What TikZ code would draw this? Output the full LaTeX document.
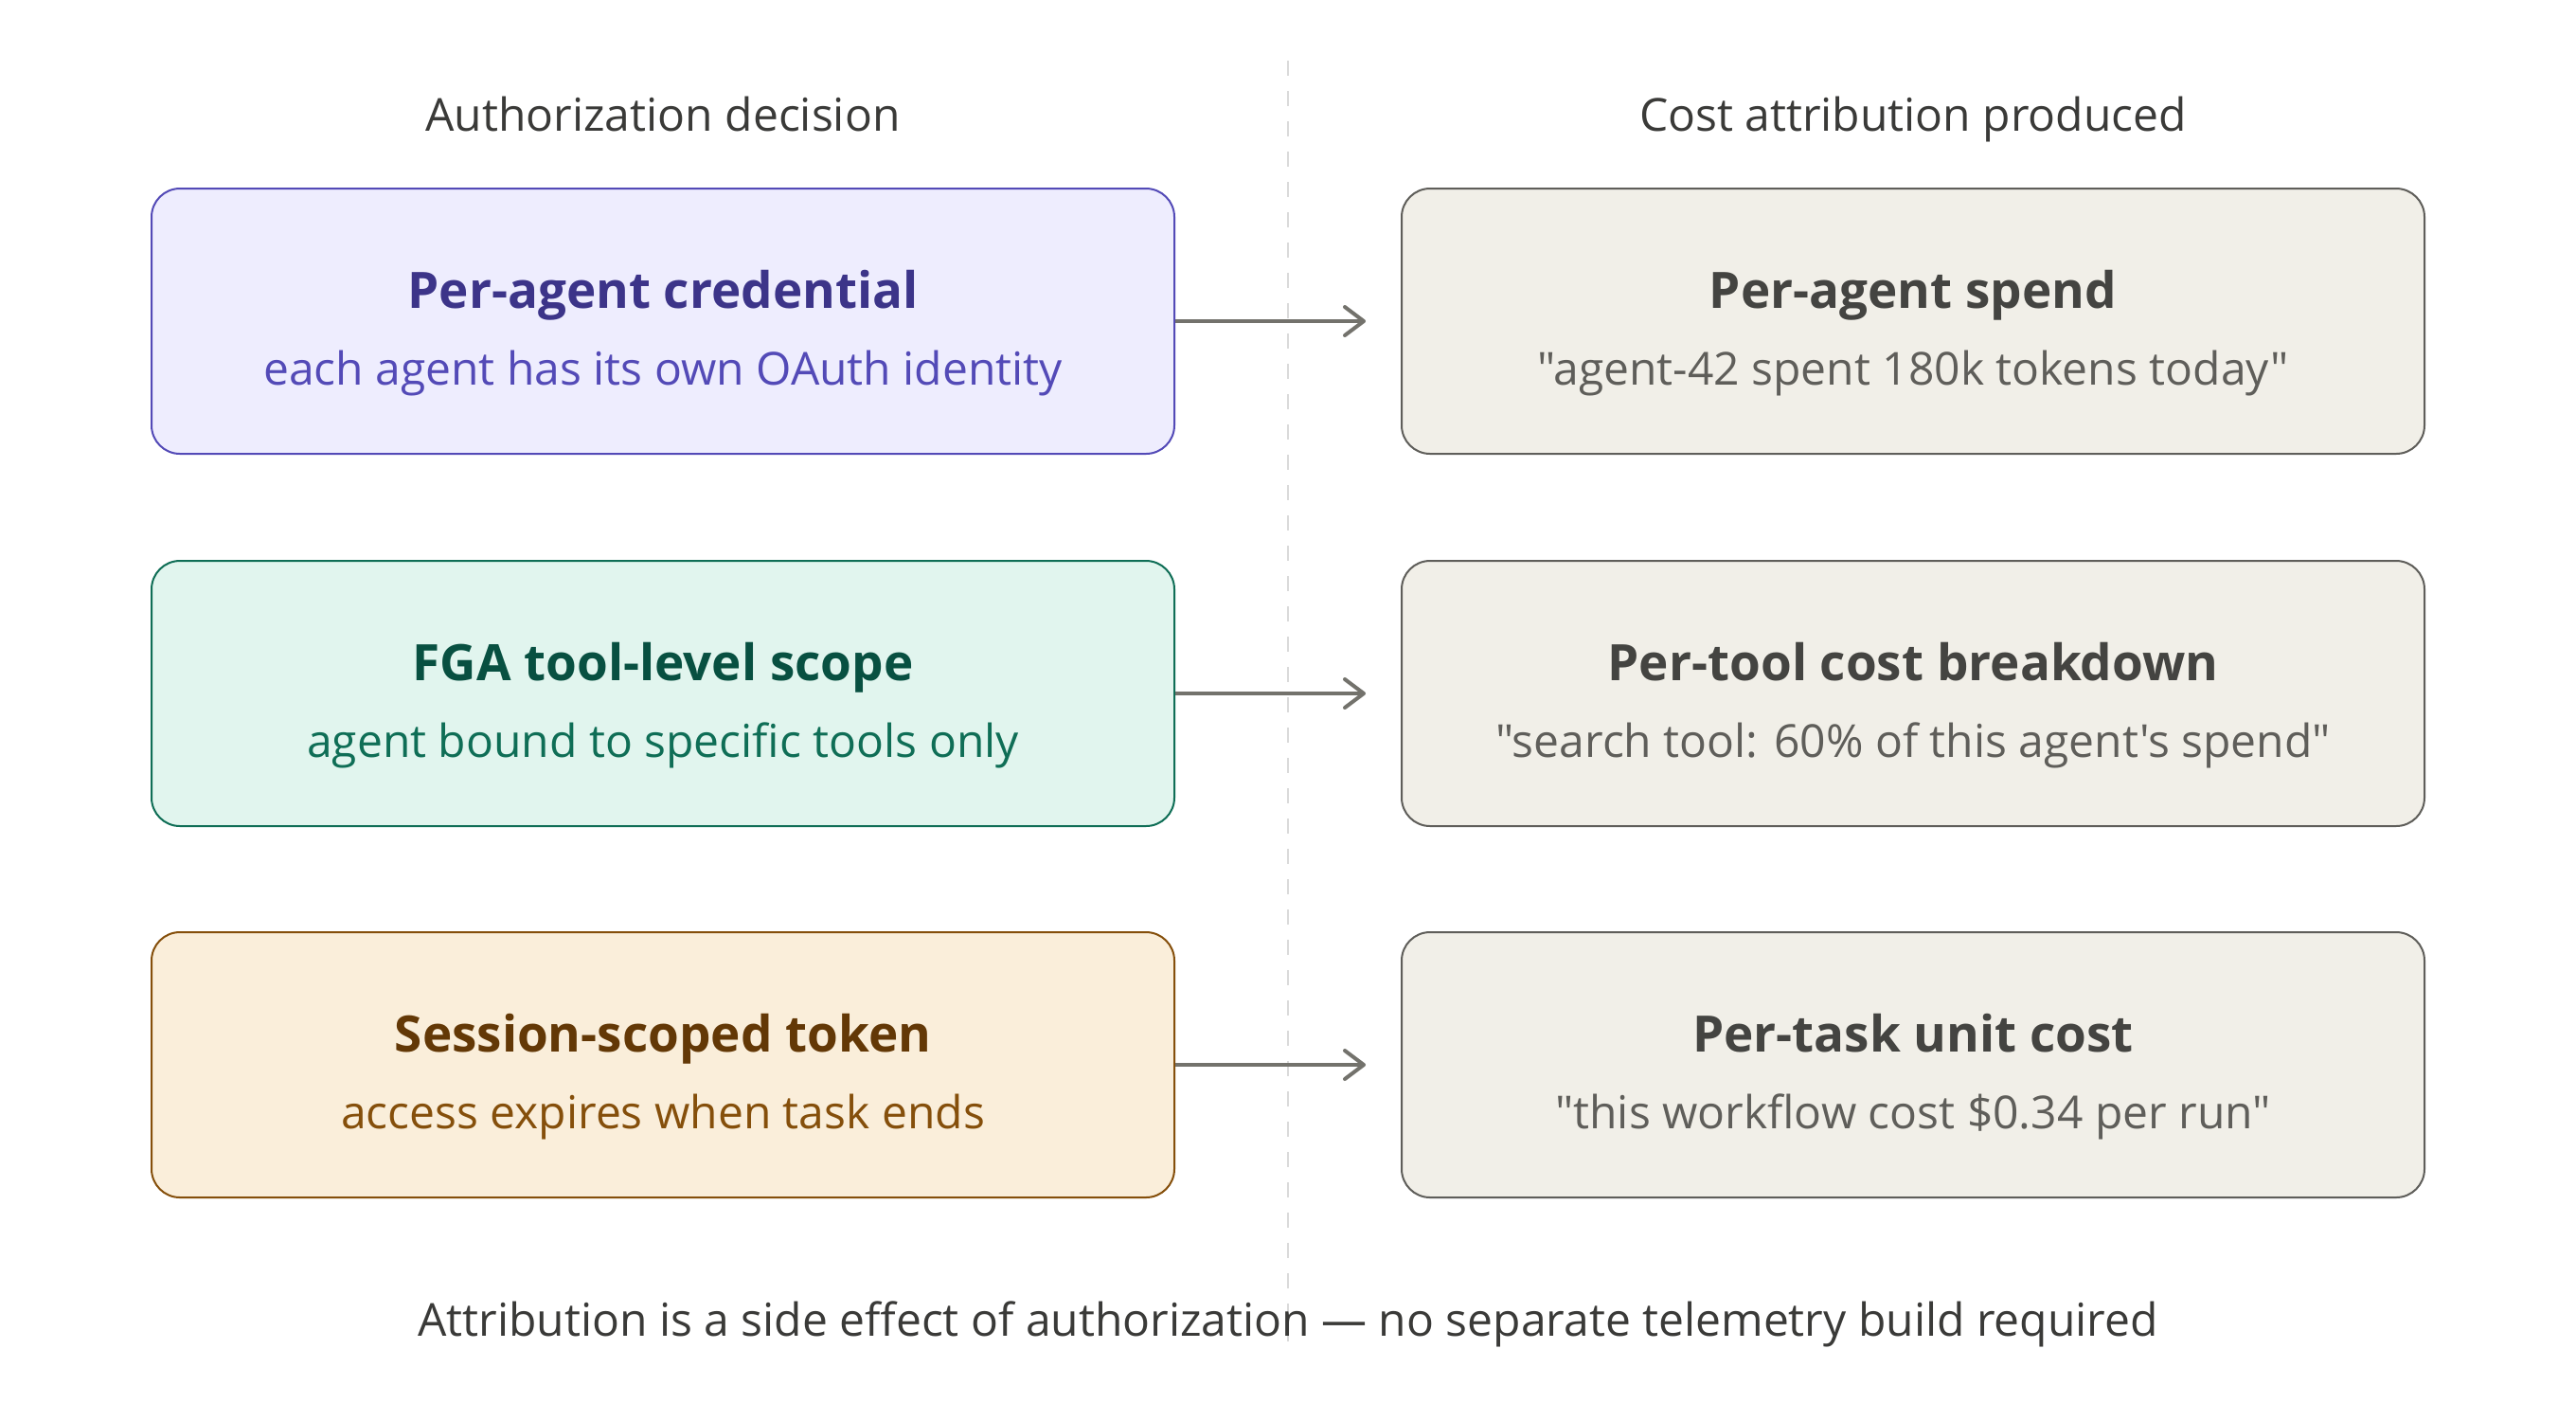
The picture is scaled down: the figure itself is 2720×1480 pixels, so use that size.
\documentclass[tikz,border=0pt]{standalone}
\usepackage{fontspec}
\setmainfont{Open Sans}
\newfontfamily\osans{Open Sans}
\usetikzlibrary{arrows.meta,calc}
\definecolor{pfill}{HTML}{EEEDFE}\definecolor{pdraw}{HTML}{534AB7}\definecolor{ptitle}{HTML}{3C3489}\definecolor{psub}{HTML}{534AB7}
\definecolor{tfill}{HTML}{E1F5EE}\definecolor{tdraw}{HTML}{0F6E56}\definecolor{ttitle}{HTML}{085041}\definecolor{tsub}{HTML}{0F6E56}
\definecolor{afill}{HTML}{FAEEDA}\definecolor{adraw}{HTML}{854F0B}\definecolor{atitle}{HTML}{633806}\definecolor{asub}{HTML}{854F0B}
\definecolor{gfill}{HTML}{F1EFE8}\definecolor{gdraw}{HTML}{5F5E5A}\definecolor{gtitle}{HTML}{444441}\definecolor{gsub}{HTML}{5F5E5A}
\definecolor{arrowc}{HTML}{73726C}\definecolor{dashc}{HTML}{DADADA}\definecolor{headc}{HTML}{3A3A38}
\tikzset{
  card/.style={draw, line width=1pt, rounded corners=15pt, minimum width=540pt, minimum height=140pt, inner sep=0pt},
  ttl/.style={font=\osans\fontsize{26.5}{30}\selectfont\bfseries, inner sep=0pt, anchor=base},
  sub/.style={font=\osans\fontsize{24}{28}\selectfont, inner sep=0pt, anchor=base},
  head/.style={font=\osans\fontsize{24}{28}\selectfont, text=headc, inner sep=0pt, anchor=base},
  conn/.style={draw=arrowc, line width=2pt, -{Straight Barb[length=10pt,width=15pt,round]}, shorten >=18.5pt},
  divider/.style={draw=dashc, line width=1pt, dash pattern=on 8pt off 8pt}
}
\begin{document}
\begin{tikzpicture}[x=0.5pt,y=-0.5pt]
\useasboundingbox[fill=white] (0,0) rectangle (2720,1480);
\coordinate (dtop) at (1360,64);
\coordinate (dbot) at (1360,1416);
\draw[divider] (dtop) -- (dbot);
\node[head] (h1) at (700,138) {Authorization decision};
\node[head] (h2) at (2020,138) {Cost attribution produced};
% left column
\node[card, fill=pfill, draw=pdraw] (l1) at (700,339) {};
\node[card, fill=tfill, draw=tdraw] (l2) at (700,732) {};
\node[card, fill=afill, draw=adraw] (l3) at (700,1124) {};
% right column
\node[card, fill=gfill, draw=gdraw] (r1) at (2020,339) {};
\node[card, fill=gfill, draw=gdraw] (r2) at (2020,732) {};
\node[card, fill=gfill, draw=gdraw] (r3) at (2020,1124) {};
% texts
\node[ttl, text=ptitle] (l1t) at ($(l1.center)+(0,-14)$) {Per-agent credential};
\node[sub, text=psub] (l1s) at ($(l1.center)+(0,67)$) {each agent has its own OAuth identity};
\node[ttl, text=ttitle] (l2t) at ($(l2.center)+(0,-14)$) {FGA tool-level scope};
\node[sub, text=tsub] (l2s) at ($(l2.center)+(0,67)$) {agent bound to specific tools only};
\node[ttl, text=atitle] (l3t) at ($(l3.center)+(0,-14)$) {Session-scoped token};
\node[sub, text=asub] (l3s) at ($(l3.center)+(0,67)$) {access expires when task ends};
\node[ttl, text=gtitle] (r1t) at ($(r1.center)+(0,-14)$) {Per-agent spend};
\node[sub, text=gsub] (r1s) at ($(r1.center)+(0,67)$) {"agent-42 spent 180k tokens today"};
\node[ttl, text=gtitle] (r2t) at ($(r2.center)+(0,-14)$) {Per-tool cost breakdown};
\node[sub, text=gsub] (r2s) at ($(r2.center)+(0,67)$) {"search tool: 60\% of this agent's spend"};
\node[ttl, text=gtitle] (r3t) at ($(r3.center)+(0,-14)$) {Per-task unit cost};
\node[sub, text=gsub] (r3s) at ($(r3.center)+(0,67)$) {"this workflow cost \$0.34 per run"};
% connectors
\draw[conn] (l1.east) -- (r1.west);
\draw[conn] (l2.east) -- (r2.west);
\draw[conn] (l3.east) -- (r3.west);
\node[head] (foot) at (1360,1410) {Attribution is a side effect of authorization — no separate telemetry build required};
\end{tikzpicture}
\end{document}
